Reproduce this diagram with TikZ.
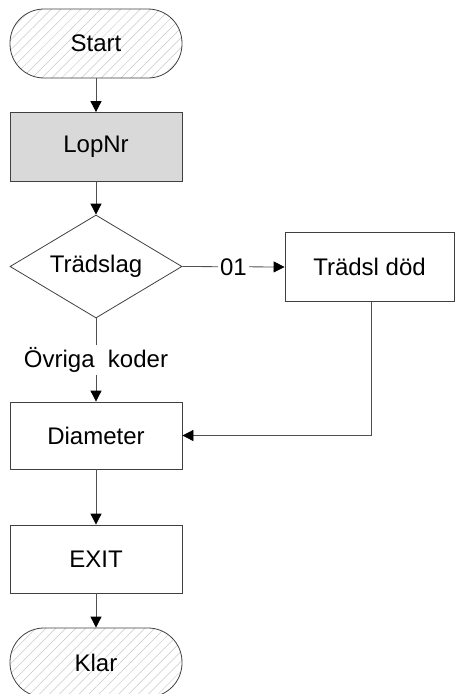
\documentclass[tikz,border=0pt]{standalone}
\usepackage{fontspec}
\setmainfont{Liberation Sans}
\usetikzlibrary{shapes.geometric,arrows.meta,patterns.meta}
\definecolor{linec}{HTML}{505050}
\definecolor{borderc}{HTML}{404040}
\definecolor{boxgray}{HTML}{D9D9D9}
\definecolor{hatchc}{HTML}{C8C8C8}
\tikzset{
  every node/.style={font=\fontsize{24}{28}\selectfont},
  terminal/.style={draw=borderc, line width=0.8pt, minimum width=172pt, minimum height=69pt,
    rounded corners=34pt, inner sep=0pt,
    pattern={Lines[angle=45,distance=7pt,line width=0.5pt]}, pattern color=hatchc},
  procbox/.style={draw=borderc, line width=0.8pt, minimum width=172pt, minimum height=69pt, inner sep=0pt, fill=white},
  grayproc/.style={procbox, fill=boxgray},
  decision/.style={diamond, draw=borderc, line width=0.8pt, minimum width=172pt, minimum height=103pt, aspect=1.67, inner sep=0pt},
  conn/.style={draw=linec, line width=0.8pt, -{Triangle[length=11pt,width=11pt,color=black]}},
  lbl/.style={fill=white, inner sep=2pt}
}
\begin{document}
\begin{tikzpicture}[x=1pt,y=-1pt]
\useasboundingbox (0,0) rectangle (455,694);
\node[terminal] (start) at (96,43.5) {Start};
\node[grayproc] (lopnr) at (96,147) {LopNr};
\node[decision] (trad) at (96,266.5) {Trädslag};
\node[procbox, minimum width=169pt] (tdod) at (369.5,267) {Trädsl död};
\node[procbox, minimum height=67pt] (diam) at (96,435.5) {Diameter};
\node[procbox, minimum height=68pt] (exit) at (96,559) {EXIT};
\node[terminal] (klar) at (96,662.5) {Klar};
\draw[conn] (start) -- (lopnr);
\draw[conn] (lopnr) -- (trad);
\draw[conn] (trad.east) -- node[lbl] {01} (tdod.west);
\draw[conn] (trad.south) -- node[lbl] {Övriga\ \ koder} (diam.north);
\draw[conn] (tdod.south -| 371,0) |- (diam.east);
\draw[conn] (diam) -- (exit);
\draw[conn] (exit) -- (klar);
\end{tikzpicture}
\end{document}
